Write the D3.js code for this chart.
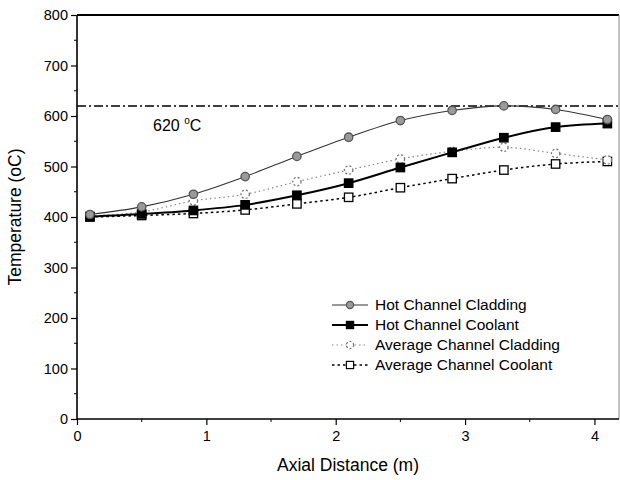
<!DOCTYPE html>
<html>
<head>
<meta charset="utf-8">
<script src="https://cdn.jsdelivr.net/npm/d3@7"></script>
<style>
  html, body { margin: 0; padding: 0; background: #fff; }
  svg { display: block; }
  text { font-family: Arial, "Liberation Sans", sans-serif; fill: #000; }
</style>
</head>
<body>
<svg id="chart" width="620" height="480"></svg>
<script>
// ---- data ----
const axialDistance = [0.1, 0.5, 0.9, 1.3, 1.7, 2.1, 2.5, 2.9, 3.3, 3.7, 4.1];
const hotChannelCladding = [405, 420, 445, 480, 520, 558, 591, 611, 620, 613, 593];
const hotChannelCoolant = [401, 406, 413, 424, 443, 467, 498, 528, 557, 578, 585];
const avgChannelCladding = [402, 410, 432, 445, 470, 493, 515, 530, 538, 526, 513];
const avgChannelCoolant = [400, 403, 407, 414, 426, 439, 458, 476, 493, 505, 510];
const limitTemp = 620;
const xTicks = [0, 1, 2, 3, 4];
const yTicks = [0, 100, 200, 300, 400, 500, 600, 700, 800];
const seriesNames = ["Hot Channel Cladding", "Hot Channel Coolant", "Average Channel Cladding", "Average Channel Coolant"];

// ---- layout ----
const svg = d3.select("#chart");
const L = 77, R = 619, T = 15, B = 419;
const x = d3.scaleLinear().domain([0, 4.19]).range([L, R]);
const y = d3.scaleLinear().domain([0, 800]).range([B, T]);

// frame (top & right)
svg.append("line").attr("x1", L).attr("x2", R).attr("y1", T).attr("y2", T)
  .attr("stroke", "#000").attr("stroke-width", 2);
svg.append("line").attr("x1", R).attr("x2", R).attr("y1", T).attr("y2", B)
  .attr("stroke", "#888").attr("stroke-width", 1);

// minor ticks
const yMinor = d3.range(50, 800, 100);
svg.append("g").selectAll("line").data(yMinor).join("line")
  .attr("x1", L - 3).attr("x2", L).attr("y1", d => y(d)).attr("y2", d => y(d))
  .attr("stroke", "#000").attr("stroke-width", 1);
const xMinor = [0.5, 1.5, 2.5, 3.5];
svg.append("g").selectAll("line").data(xMinor).join("line")
  .attr("x1", d => x(d)).attr("x2", d => x(d)).attr("y1", B).attr("y2", B + 3)
  .attr("stroke", "#000").attr("stroke-width", 1);

// axes
const xAxis = svg.append("g").attr("transform", `translate(0,${B})`)
  .call(d3.axisBottom(x).tickValues(xTicks).tickSize(6).tickPadding(6).tickFormat(d3.format("d")));
const yAxis = svg.append("g").attr("transform", `translate(${L},0)`)
  .call(d3.axisLeft(y).tickValues(yTicks).tickSize(6).tickPadding(3).tickFormat(d3.format("d")));
[xAxis, yAxis].forEach(g => {
  g.select(".domain").attr("stroke", "#000").attr("stroke-width", 1.6);
  g.selectAll(".tick line").attr("stroke", "#000").attr("stroke-width", 1.2);
  g.selectAll(".tick text").attr("font-size", 14.5).attr("font-family", "Arial, 'Liberation Sans', sans-serif").attr("fill", "#000");
});
xAxis.select(".domain").attr("d", `M${L},0H${R}`);
yAxis.select(".domain").attr("d", `M0,${B}V${T}`);

// axis titles
svg.append("text").attr("x", (L + R) / 2).attr("y", 471).attr("text-anchor", "middle")
  .attr("font-size", 17.5).text("Axial Distance (m)");
svg.append("text").attr("transform", `translate(21,${(T + B) / 2}) rotate(-90)`)
  .attr("text-anchor", "middle").attr("font-size", 17.5).text("Temperature (oC)");

// 620 line
svg.append("line").attr("x1", L).attr("x2", R).attr("y1", y(limitTemp)).attr("y2", y(limitTemp))
  .attr("stroke", "#000").attr("stroke-width", 1.5).attr("stroke-dasharray", "9,3,2,3");
const lbl = svg.append("text").attr("x", 153).attr("y", 131).attr("font-size", 16);
lbl.append("tspan").text("620 ");
lbl.append("tspan").attr("font-size", 10).attr("dy", -7).text("o");
lbl.append("tspan").attr("dy", 7).text("C");

// series definitions
const series = [
  { name: seriesNames[0], values: hotChannelCladding, stroke: "#333", width: 1.1, dash: null, marker: "circle", fill: "#9a9a9a", mstroke: "#555", mdash: null },
  { name: seriesNames[1], values: hotChannelCoolant, stroke: "#000", width: 2, dash: null, marker: "square", fill: "#000", mstroke: "#000", mdash: null },
  { name: seriesNames[2], values: avgChannelCladding, stroke: "#888", width: 1.2, dash: "1.5,3", marker: "circle", fill: "#fff", mstroke: "#777", mdash: "2,2" },
  { name: seriesNames[3], values: avgChannelCoolant, stroke: "#000", width: 1.5, dash: "2.5,3", marker: "square", fill: "#fff", mstroke: "#000", mdash: null },
];

const lineGen = d3.line().x(d => x(d[0])).y(d => y(d[1])).curve(d3.curveCatmullRom.alpha(0.5));

function drawMarker(g, type, cx, cy, size) {
  const r = size || 4.2;
  if (type === "circle") {
    return g.append("circle").attr("cx", cx).attr("cy", cy).attr("r", r);
  } else {
    return g.append("rect").attr("x", cx - r).attr("y", cy - r).attr("width", 2 * r).attr("height", 2 * r);
  }
}

[3, 2, 1, 0].forEach(i => {
  const s = series[i];
  const pts = axialDistance.map((d, j) => [d, s.values[j]]);
  svg.append("path").attr("d", lineGen(pts)).attr("fill", "none")
    .attr("stroke", s.stroke).attr("stroke-width", s.width)
    .attr("stroke-dasharray", s.dash);
  const g = svg.append("g");
  pts.forEach(p => {
    drawMarker(g, s.marker, x(p[0]), y(p[1]))
      .attr("fill", s.fill).attr("stroke", s.mstroke).attr("stroke-width", 1.3)
      .attr("stroke-dasharray", s.mdash);
  });
});

// legend
const legX1 = 332, legX2 = 368, legTextX = 375;
const legY = [305, 325, 345, 365];
series.forEach((s, i) => {
  const g = svg.append("g");
  const yy = legY[i];
  g.append("line").attr("x1", legX1).attr("x2", legX2).attr("y1", yy).attr("y2", yy)
    .attr("stroke", s.stroke).attr("stroke-width", s.width).attr("stroke-dasharray", s.dash);
  drawMarker(g, s.marker, (legX1 + legX2) / 2, yy, 3.6)
    .attr("fill", s.fill).attr("stroke", s.mstroke).attr("stroke-width", 1.2)
    .attr("stroke-dasharray", s.mdash);
  g.append("text").attr("x", legTextX).attr("y", yy + 5).attr("font-size", 15.5).text(s.name);
});
</script>
</body>
</html>
